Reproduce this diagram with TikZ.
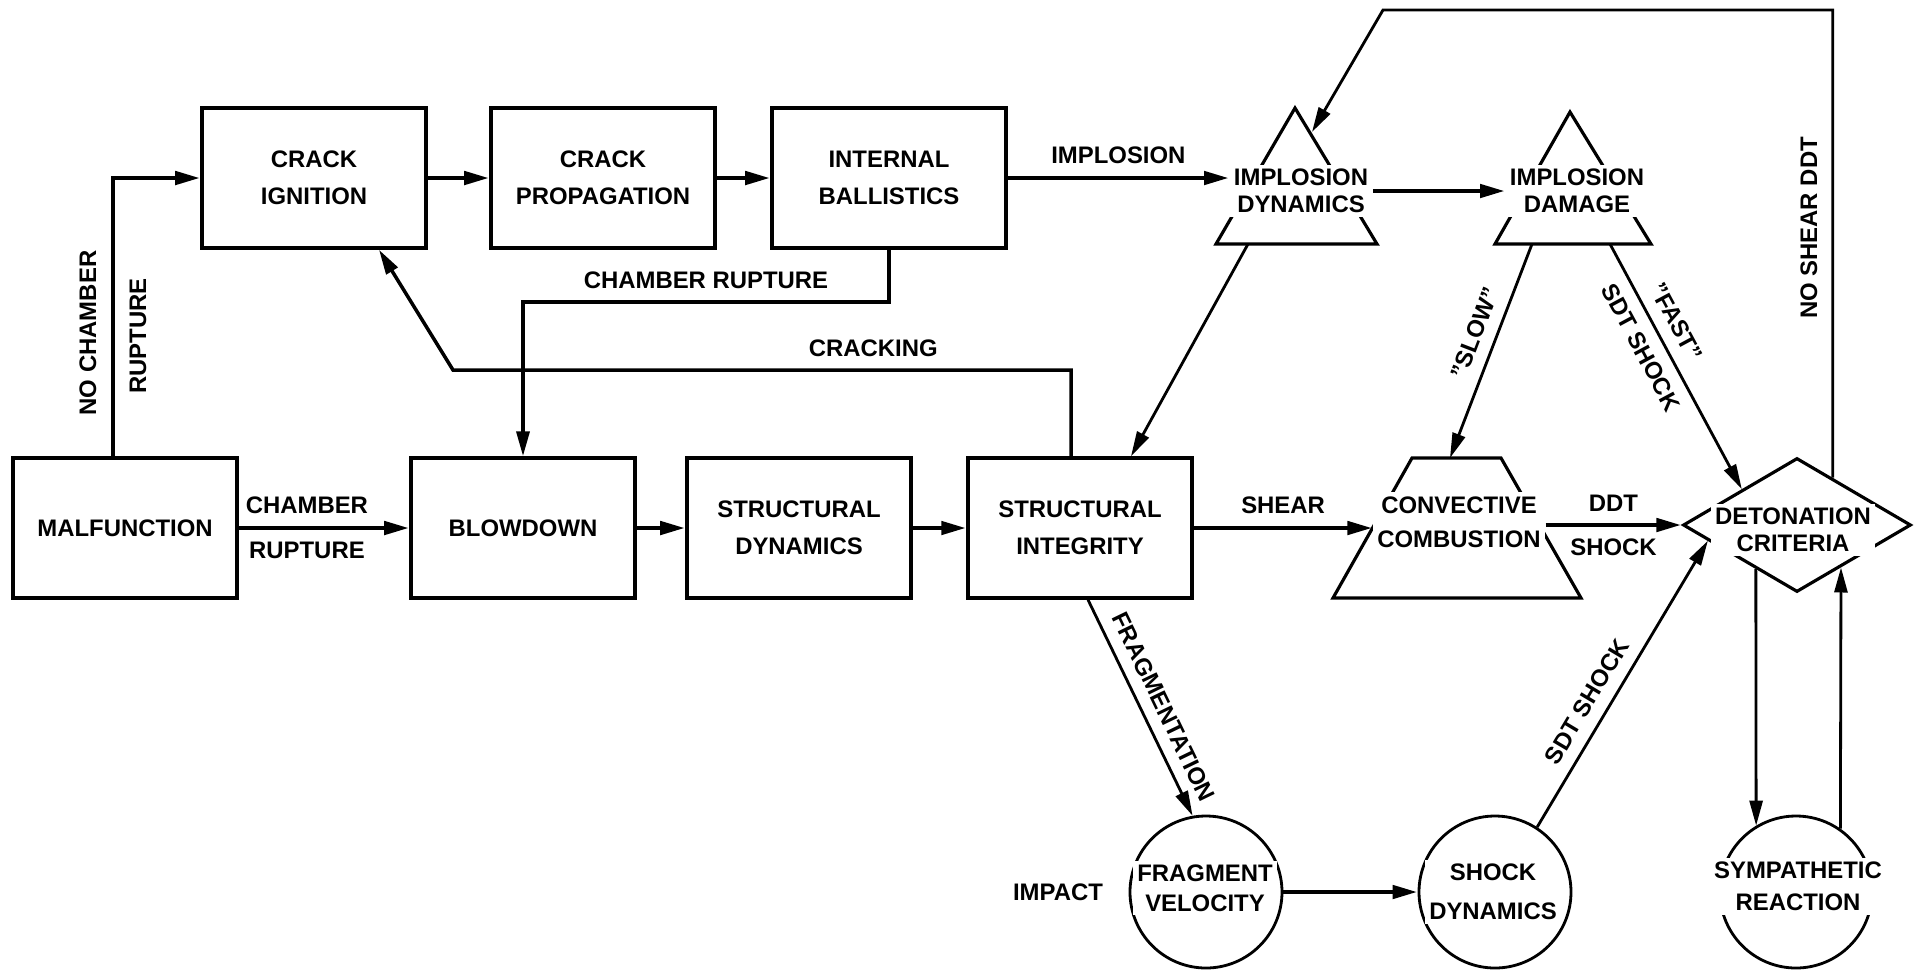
\documentclass[tikz,border=0pt]{standalone}
\usepackage{fontspec}
\setmainfont{Liberation Sans}
\usepackage{tikz}
\usetikzlibrary{arrows.meta, calc, shapes.geometric}

\begin{document}
\begin{tikzpicture}[>={Triangle[length=2.5mm, width=1.3mm]},
  every node/.style={font=\fontsize{6.8}{10.5}\selectfont\bfseries},
  blk/.style={draw, line width=1pt, minimum width=2.24cm, minimum height=1.40cm, align=center, inner sep=1pt},
  circ/.style={draw, circle, line width=0.8pt, minimum size=1.52cm, inner sep=0pt},
  dmd/.style={draw, diamond, line width=0.9pt, minimum width=2.28cm, minimum height=1.34cm, inner sep=0pt},
  lbl/.style={fill=white, align=center, inner sep=1.2pt},
  tight/.style={font=\fontsize{6.8}{#1}\selectfont\bfseries}, tight/.default=7.8,
  flow/.style={->, line width=1.3pt},
  link/.style={->, line width=1pt},
  slant/.style={->, line width=0.8pt},
  shp/.style={line width=0.9pt, line join=miter}]

\useasboundingbox (0,0) rectangle (19.16,-9.69);

\node[blk] (malf) at (1.25,-5.28) {MALFUNCTION};
\node[blk] (crign) at (3.14,-1.78) {CRACK\\IGNITION};
\node[blk] (crprop) at (6.03,-1.78) {CRACK\\PROPAGATION};
\node[blk, minimum width=2.34cm] (intbal) at (8.89,-1.78) {INTERNAL\\BALLISTICS};
\node[blk] (blowdn) at (5.23,-5.28) {BLOWDOWN};
\node[blk] (strdyn) at (7.99,-5.28) {STRUCTURAL\\DYNAMICS};
\node[blk] (strint) at (10.80,-5.28) {STRUCTURAL\\INTEGRITY};

\draw[shp] (12.16,-2.44) -- (12.95,-1.08) -- (13.77,-2.44) -- cycle;
\node[lbl, tight] (impdyn) at (13.01,-1.91) {IMPLOSION\\DYNAMICS};
\draw[shp] (14.95,-2.44) -- (15.70,-1.12) -- (16.51,-2.44) -- cycle;
\node[lbl, tight] (impdmg) at (15.77,-1.91) {IMPLOSION\\DAMAGE};
\draw[shp] (14.12,-4.58) -- (15.01,-4.58) -- (15.81,-5.98) -- (13.33,-5.98) -- cycle;
\node[lbl, tight=9.6] (convcomb) at (14.59,-5.22) {CONVECTIVE\\COMBUSTION};
\node[dmd] (detcrit) at (17.97,-5.25) {};
\node[lbl, tight] (detcrit-t) at (17.93,-5.30) {DETONATION\\CRITERIA};

\node[circ] (fragvel) at (12.06,-8.92) {};
\node[lbl, tight=8.4] (fragvel-t) at (12.05,-8.88) {FRAGMENT\\VELOCITY};
\node[circ] (shockdyn) at (14.95,-8.92) {};
\node[lbl, tight=11] (shockdyn-t) at (14.93,-8.92) {SHOCK\\DYNAMICS};
\node[circ] (sympreac) at (17.96,-8.92) {};
\node[lbl, tight=9] (sympreac-t) at (17.98,-8.86) {SYMPATHETIC\\REACTION};
\node (impact) at (10.58,-8.92) {IMPACT};

\coordinate (idbase) at (12.48,-2.44);
\coordinate (dmgl) at (15.32,-2.44);
\coordinate (dmgr) at (16.10,-2.44);
\coordinate (cctop) at (14.50,-4.58);
\coordinate (idhit) at (13.12,-1.32);
\coordinate (fbturn) at (13.83,-0.10);
\coordinate (crkturn) at (4.53,-3.70);

\draw[flow] ($(malf.north)+(-0.12,0)$) |- (crign.west);
\node[rotate=90] (nochamber) at (0.88,-3.33) {NO CHAMBER};
\node[rotate=90] (norupture) at (1.38,-3.36) {RUPTURE};
\draw[flow] (crign) -- (crprop);
\draw[flow] (crprop) -- (intbal);
\draw[flow] (intbal.east) -- (intbal.east -| impdyn.west) node[midway, above] {IMPLOSION};
\draw[flow] (impdyn) -- (impdmg);
\draw[link] (intbal.south) -- ++(0,-0.52) coordinate (crturn) -- (crturn -| blowdn.north)
  node[midway, above] {CHAMBER RUPTURE} -- (blowdn.north);
\draw[link] ($(strint.north)+(-0.09,0)$) |- (crkturn) node[pos=0.66, above] {CRACKING}
  -- ($(crign.south)+(0.65,0)$);

\draw[flow] (malf) -- (blowdn) node[pos=0.4, above] {CHAMBER} node[pos=0.4, below] {RUPTURE};
\draw[flow] (blowdn) -- (strdyn);
\draw[flow] (strdyn) -- (strint);
\draw[flow] (strint.east) -- (strint.east -| convcomb.west) node[midway, above] {SHEAR};
\draw[flow] (convcomb.east |- detcrit.west) -- (detcrit.west)
  node[midway, above] {DDT} node[midway, below] {SHOCK};

\draw[slant] (idbase) -- ($(strint.north)+(0.51,0)$);
\draw[slant] (dmgl) -- (cctop) node[pos=0.45, sloped, above] {"SLOW"};
\draw[slant] (dmgr) -- (detcrit.147) node[pos=0.38, sloped, below] {SDT SHOCK}
  node[pos=0.36, sloped, above] {"FAST"};
\draw[slant] (detcrit.53) |- (fbturn) -- (idhit);
\node[rotate=90] (noshear) at (18.09,-2.28) {NO SHEAR DDT};
\draw[slant] (detcrit.227) -- (sympreac.121);
\draw[slant] (sympreac.55) -- (detcrit.316);

\draw[slant] ($(strint.south)+(0.08,0)$) -- (fragvel.100) node[pos=0.54, sloped, above] {FRAGMENTATION};
\draw[flow] (fragvel) -- (shockdyn);
\draw[slant] (shockdyn.57) -- (detcrit.190) node[pos=0.4, sloped, above] {SDT SHOCK};

\end{tikzpicture}
\end{document}
